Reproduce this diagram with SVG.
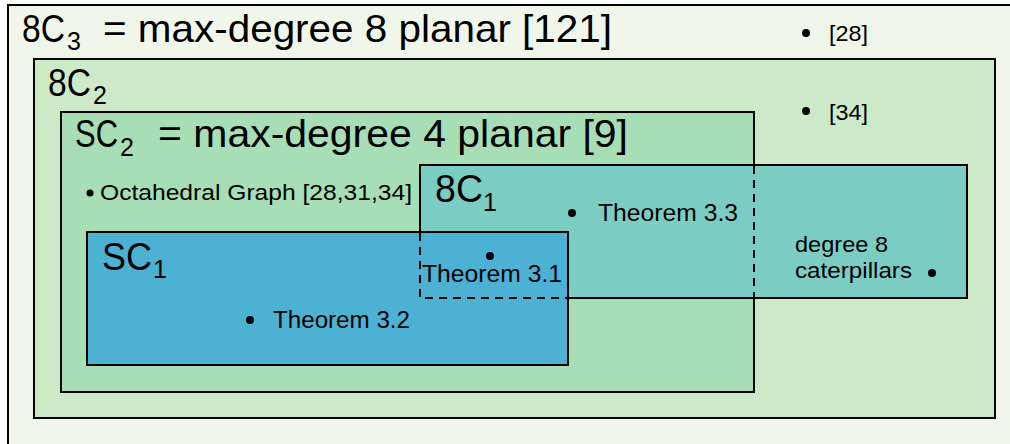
<svg xmlns="http://www.w3.org/2000/svg" width="1010" height="444" viewBox="0 0 1010 444">
<style>
.box{stroke:#000;stroke-width:2}
.dash{fill:none;stroke:#000;stroke-width:2;stroke-dasharray:8,6}
text{font-family:"Liberation Sans",Arial,sans-serif;fill:#000}
.big{font-size:39px}
.sm{font-size:23px}
.xs{font-size:22px}
.sub{font-size:25px}
</style>
<rect x="0" y="0" width="1010" height="444" fill="#ffffff"/>
<g id="eightC3">
<rect class="box" x="8" y="5" width="1010" height="460" fill="#f1f6ea"/>
<text class="big" x="22" y="42"><tspan textLength="43" lengthAdjust="spacingAndGlyphs">8C</tspan><tspan class="sub" x="67" y="50">3</tspan><tspan x="103" y="42" textLength="509" lengthAdjust="spacingAndGlyphs">= max-degree 8 planar [121]</tspan></text>
</g>
<g id="ref28">
<circle cx="806" cy="33" r="4"/>
<text class="xs" x="829" y="41" textLength="39" lengthAdjust="spacingAndGlyphs">[28]</text>
</g>
<g id="eightC2">
<rect class="box" x="34" y="59" width="961" height="359" fill="#cdeac8"/>
<text class="big" x="48" y="96"><tspan textLength="43" lengthAdjust="spacingAndGlyphs">8C</tspan><tspan class="sub" x="93" y="104">2</tspan></text>
</g>
<g id="ref34">
<circle cx="806" cy="111" r="4"/>
<text class="xs" x="829" y="120" textLength="39" lengthAdjust="spacingAndGlyphs">[34]</text>
</g>
<g id="SC2">
<rect class="box" x="61" y="112" width="693" height="280" fill="#a7deb5"/>
<text class="big" x="75" y="147"><tspan textLength="43" lengthAdjust="spacingAndGlyphs">SC</tspan><tspan class="sub" x="120" y="156">2</tspan><tspan x="158" y="147" textLength="470" lengthAdjust="spacingAndGlyphs">= max-degree 4 planar [9]</tspan></text>
</g>
<g id="octahedral">
<circle cx="90" cy="193" r="3.5"/>
<text class="xs" x="100" y="200" textLength="312" lengthAdjust="spacingAndGlyphs">Octahedral Graph [28,31,34]</text>
</g>
<g id="eightC1">
<rect class="box" x="420" y="165" width="547" height="133" fill="#7bcdc4"/>
<text class="big" x="435" y="202"><tspan textLength="48" lengthAdjust="spacingAndGlyphs">8C</tspan><tspan class="sub" x="483" y="211">1</tspan></text>
</g>
<g id="SC1">
<rect class="box" x="87" y="232" width="481" height="133" fill="#4db1d3"/>
<text class="big" x="102" y="270"><tspan textLength="50" lengthAdjust="spacingAndGlyphs">SC</tspan><tspan class="sub" x="153" y="278">1</tspan></text>
</g>
<g id="connectors">
<path class="dash" d="M754,166 V297"/>
<path class="dash" d="M420,233 V298 H568"/>
</g>
<g id="thm33">
<circle cx="572" cy="213" r="4"/>
<text class="sm" x="598" y="221" textLength="140" lengthAdjust="spacingAndGlyphs">Theorem 3.3</text>
</g>
<g id="thm31">
<circle cx="490" cy="256" r="4"/>
<text class="sm" x="422" y="282" textLength="140" lengthAdjust="spacingAndGlyphs">Theorem 3.1</text>
</g>
<g id="thm32">
<circle cx="250" cy="320" r="4"/>
<text class="sm" x="273" y="328" textLength="137" lengthAdjust="spacingAndGlyphs">Theorem 3.2</text>
</g>
<g id="caterpillars">
<text class="xs" x="795" y="252" textLength="93" lengthAdjust="spacingAndGlyphs">degree 8</text>
<text class="xs" x="795" y="278" textLength="117" lengthAdjust="spacingAndGlyphs">caterpillars</text>
<circle cx="932" cy="273" r="4"/>
</g>
</svg>
